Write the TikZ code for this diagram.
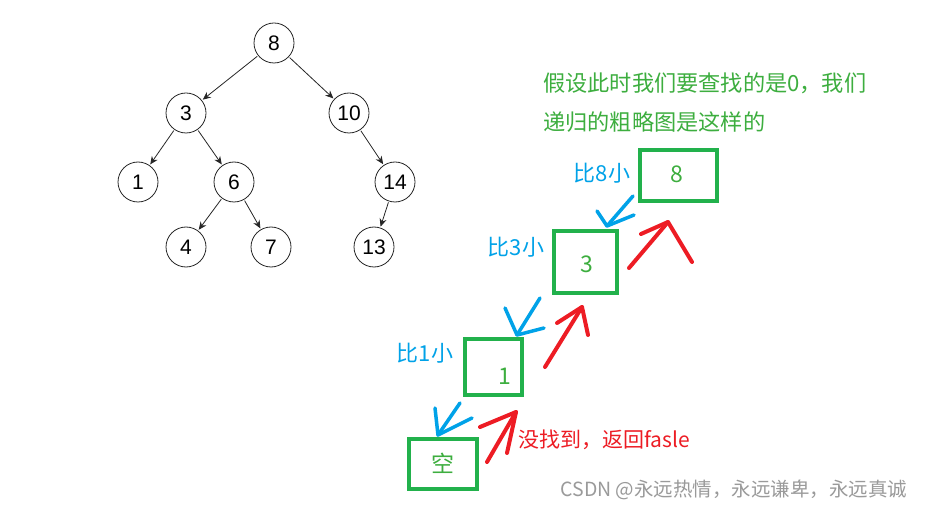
\documentclass[tikz,border=0pt]{standalone}
\usepackage{fontspec}
\setmainfont{Noto Sans CJK SC}
\newfontfamily\treefont{Liberation Sans}
\usetikzlibrary{arrows.meta}
\definecolor{boxgreen}{HTML}{22B14C}
\definecolor{txtgreen}{HTML}{3DAE3F}
\definecolor{penblue}{HTML}{00A2E8}
\definecolor{penred}{HTML}{ED1C24}
\definecolor{wmgray}{HTML}{9A9A9A}
\tikzset{
  treenode/.style={circle,draw=black!85,line width=0.8pt,minimum size=40pt,inner sep=0pt,font=\treefont\fontsize{21}{21}\selectfont},
  treeedge/.style={-{Stealth[length=8pt,width=7pt]},line width=0.8pt,black!85,shorten <=1pt,shorten >=1pt},
  gbox/.style={draw=boxgreen,line width=4pt,inner sep=0pt},
  gnum/.style={text=txtgreen,font=\fontsize{23}{23}\selectfont,inner sep=0pt},
  bluelbl/.style={text=penblue,font=\fontsize{22}{22}\selectfont,inner sep=0pt},
  bluepen/.style={draw=penblue,line width=3.5pt,line cap=round,line join=round},
  redpen/.style={draw=penred,line width=4pt,line cap=round,line join=round},
}
\begin{document}
\begin{tikzpicture}[x=1pt,y=-1pt]
\useasboundingbox[fill=white] (0,0) rectangle (925,510);
% tree
\node[treenode] (t8) at (274,43) {8};
\node[treenode] (t3) at (186,113) {3};
\node[treenode] (t10) at (349,113) {10};
\node[treenode] (t1) at (138,182) {1};
\node[treenode] (t6) at (234,182) {6};
\node[treenode] (t14) at (395,182) {14};
\node[treenode] (t4) at (186,247) {4};
\node[treenode] (t7) at (271,247) {7};
\node[treenode] (t13) at (374,247) {13};
\draw[treeedge] (t8) -- (t3);
\draw[treeedge] (t8) -- (t10);
\draw[treeedge] (t3) -- (t1);
\draw[treeedge] (t3) -- (t6);
\draw[treeedge] (t6) -- (t4);
\draw[treeedge] (t6) -- (t7);
\draw[treeedge] (t10) -- (t14);
\draw[treeedge] (t14) -- (t13);
% green text
\node[anchor=west,text=txtgreen,font=\fontsize{22.2}{22.2}\selectfont,inner sep=0pt] (title1) at (543,83) {假设此时我们要查找的是0，我们};
\node[anchor=west,text=txtgreen,font=\fontsize{22.2}{22.2}\selectfont,inner sep=0pt] (title2) at (543,122) {递归的粗略图是这样的};
% boxes
\node[gbox,minimum width=77pt,minimum height=51pt] (b8) at (678.5,175.5) {};
\node[gbox,minimum width=63pt,minimum height=62pt] (b3) at (585.5,262) {};
\node[gbox,minimum width=57pt,minimum height=56pt] (b1) at (493.5,367) {};
\node[gbox,minimum width=68pt,minimum height=50pt] (b0) at (443,464) {};
\node[gnum] (v8) at (677,174) {8};
\node[gnum] (v3) at (587,264) {3};
\node[gnum] (v1) at (505,376) {1};
\node[gnum] (v0) at (443,463) {空};
% blue labels
\node[bluelbl] (l8) at (602,173) {比8小};
\node[bluelbl] (l3) at (516,247) {比3小};
\node[bluelbl] (l1) at (425,353) {比1小};
% red label
\node[anchor=west,text=penred,font=\fontsize{21}{21}\selectfont,inner sep=0pt] (ret) at (518,440) {没找到，返回fasle};
% blue hand arrows
\coordinate (ba1s) at (633,196); \coordinate (ba1t) at (607,226);
\coordinate (ba1l) at (597,211); \coordinate (ba1r) at (634,215);
\draw[bluepen] (ba1s) -- (ba1t);
\draw[bluepen] (ba1l) -- (ba1t) -- (ba1r);
\coordinate (ba2s) at (540,298); \coordinate (ba2t) at (517,335);
\coordinate (ba2l) at (505,308); \coordinate (ba2r) at (544,328);
\draw[bluepen] (ba2s) -- (ba2t);
\draw[bluepen] (ba2l) -- (ba2t) -- (ba2r);
\coordinate (ba3s) at (460,403); \coordinate (ba3t) at (438,435);
\coordinate (ba3l) at (435,408); \coordinate (ba3r) at (472,418);
\draw[bluepen] (ba3s) -- (ba3t);
\draw[bluepen] (ba3l) -- (ba3t) -- (ba3r);
% red hand arrows
\coordinate (ra1s) at (629,268); \coordinate (ra1t) at (668,222);
\coordinate (ra1l) at (641,234); \coordinate (ra1r) at (692,262);
\draw[redpen] (ra1s) -- (ra1t);
\draw[redpen] (ra1l) -- (ra1t) -- (ra1r);
\coordinate (ra2s) at (545,367); \coordinate (ra2t) at (582,307);
\coordinate (ra2l) at (557,323); \coordinate (ra2r) at (588,335);
\draw[redpen] (ra2s) -- (ra2t);
\draw[redpen] (ra2l) -- (ra2t) -- (ra2r);
\coordinate (ra3s) at (487,462); \coordinate (ra3t) at (516,412);
\coordinate (ra3l) at (480,427); \coordinate (ra3r) at (507,453);
\draw[redpen] (ra3s) -- (ra3t);
\draw[redpen] (ra3l) -- (ra3t) -- (ra3r);
% watermark
\node[text=wmgray,font=\fontsize{19.5}{19.5}\selectfont,inner sep=0pt] (wm) at (734,490) {CSDN @永远热情，永远谦卑，永远真诚};
\end{tikzpicture}
\end{document}
